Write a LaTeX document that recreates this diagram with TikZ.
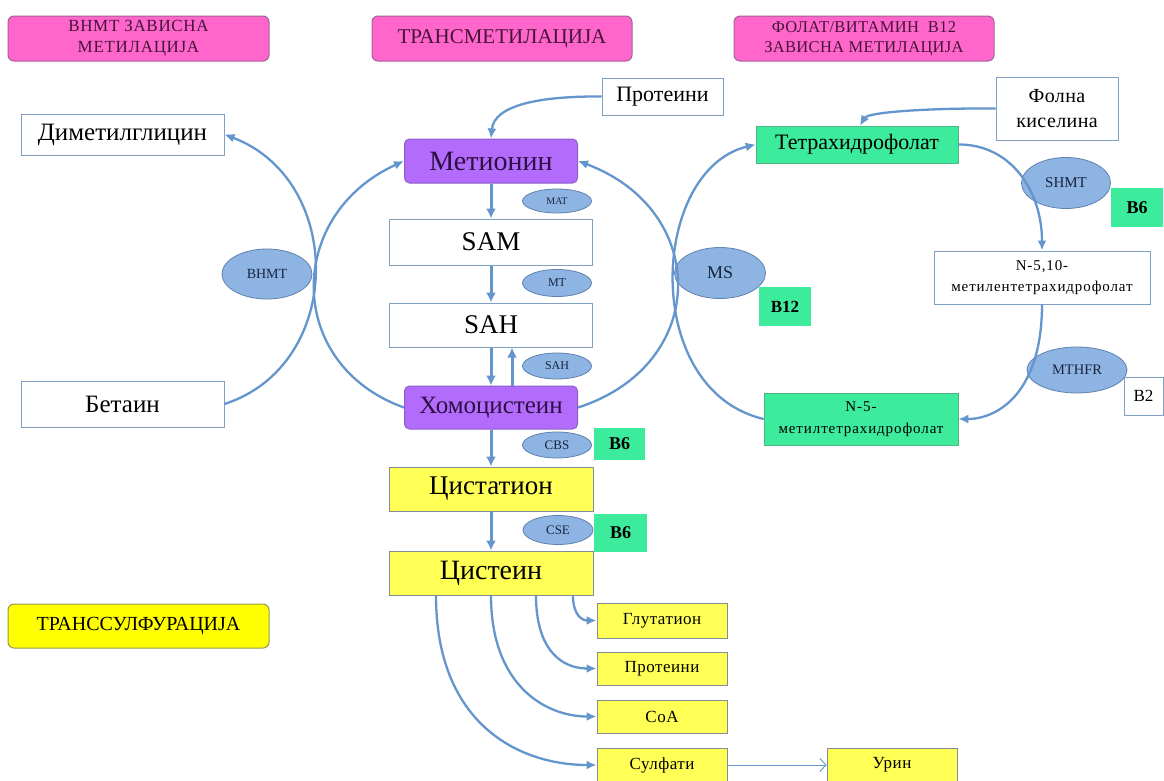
\documentclass[tikz,border=0pt]{standalone}
\usepackage{fontspec}
\setmainfont{Liberation Serif}
\usetikzlibrary{arrows.meta,shapes.geometric}
\definecolor{pinkF}{RGB}{255,102,204}
\definecolor{pinkD}{RGB}{165,95,150}
\definecolor{hdrT}{RGB}{70,20,55}
\definecolor{purF}{RGB}{178,107,250}
\definecolor{purD}{RGB}{140,95,200}
\definecolor{purT}{RGB}{45,15,70}
\definecolor{grnF}{RGB}{60,235,155}
\definecolor{grnD}{RGB}{80,180,130}
\definecolor{yelF}{RGB}{255,255,85}
\definecolor{yelD}{RGB}{130,140,150}
\definecolor{hdrY}{RGB}{255,255,0}
\definecolor{hdrYD}{RGB}{150,150,80}
\definecolor{boxD}{RGB}{125,160,195}
\definecolor{ellF}{RGB}{142,180,227}
\definecolor{ellD}{RGB}{95,130,175}
\definecolor{ellT}{RGB}{25,35,60}
\definecolor{arr}{RGB}{100,150,205}
\newcommand{\fz}[2]{\fontsize{#1}{#2}\selectfont}
\begin{document}
\begin{tikzpicture}[x=1pt,y=-1pt,
  hdr/.style={rectangle, rounded corners=6pt, fill=pinkF, draw=pinkD, line width=1pt, align=center, text=hdrT, inner sep=0pt},
  hdry/.style={rectangle, rounded corners=6pt, fill=hdrY, draw=hdrYD, line width=1pt, align=center, text=black, inner sep=0pt},
  wbox/.style={rectangle, fill=white, draw=boxD, line width=1pt, align=center, inner sep=0pt},
  pbox/.style={rectangle, rounded corners=5pt, fill=purF, draw=purD, line width=1pt, text=purT, inner sep=0pt},
  gbox/.style={rectangle, fill=grnF, draw=grnD, line width=0.6pt, align=center, inner sep=0pt},
  ybox/.style={rectangle, fill=yelF, draw=yelD, line width=1pt, align=center, inner sep=0pt},
  enz/.style={ellipse, fill=ellF, draw=ellD, line width=0.8pt, text=ellT, inner sep=0pt},
  conn/.style={draw=arr, line width=2.3pt, -{Latex[length=10pt,width=9pt]}},
  vconn/.style={draw=arr, line width=3pt, -{Latex[length=10pt,width=10pt]}}
]
\useasboundingbox (0,0) rectangle (1164,780);
\fill[white] (0,0) rectangle (1164,780);

% headers
\node[hdr, minimum width=261pt, minimum height=45pt, font={\fz{17}{21}\addfontfeatures{LetterSpace=4}}] (hA) at (138.5,38.5) {ВНМТ ЗАВИСНА\\МЕТИЛАЦИЈА};
\node[hdr, minimum width=260pt, minimum height=45pt, font=\fz{21}{24}] (hB) at (502,38.5) {ТРАНСМЕТИЛАЦИЈА};
\node[hdr, minimum width=260pt, minimum height=45pt, font={\fz{16.5}{20}\addfontfeatures{LetterSpace=2}}] (hC) at (864,38.5) {ФОЛАТ/ВИТАМИН\ \ B12\\ЗАВИСНА МЕТИЛАЦИЈА};
\node[hdry, minimum width=261pt, minimum height=44pt, font=\fz{20}{24}] (hD) at (138.5,626) {ТРАНССУЛФУРАЦИЈА};

% left
\node[wbox, minimum width=203pt, minimum height=41pt, font=\fz{25}{28}] (dmg) at (122.5,134.5) {Диметилглицин};
\node[wbox, minimum width=203pt, minimum height=46pt, font=\fz{25}{28}] (bet) at (122.5,404) {Бетаин};
\node[enz, minimum width=90pt, minimum height=50pt, font=\fz{14}{16}] (bhmt) at (267,274) {BHMT};

% centre
\node[wbox, minimum width=121pt, minimum height=37pt, font=\fz{22}{24}] (prot) at (662.5,96.5) {Протеини};
\node[pbox, minimum width=173pt, minimum height=44pt, font=\fz{28}{30}] (met) at (491,161) {Метионин};
\node[enz, minimum width=69pt, minimum height=24pt, font=\fz{10}{12}] (mat) at (557,201) {MAT};
\node[wbox, minimum width=203pt, minimum height=46pt, font=\fz{27}{30}] (sam) at (491,242) {SAM};
\node[enz, minimum width=69pt, minimum height=27pt, font=\fz{12}{14}] (mt) at (557,283) {MT};
\node[wbox, minimum width=203pt, minimum height=44pt, font=\fz{27}{30}] (sah) at (491,325) {SAH};
\node[enz, minimum width=69pt, minimum height=26pt, font=\fz{12}{14}] (sahE) at (557,366) {SAH};
\node[pbox, minimum width=173pt, minimum height=43pt, font=\fz{25}{28}] (hcy) at (491,407.5) {Хомоцистеин};
\node[enz, minimum width=69pt, minimum height=26pt, font=\fz{13}{15}] (cbs) at (557,445) {CBS};
\node[gbox, draw=none, minimum width=51pt, minimum height=32pt, font=\fz{18}{20}\bfseries] (b6a) at (619.5,444) {B6};
\node[ybox, minimum width=204pt, minimum height=44pt, font=\fz{27}{30}] (cysta) at (491,489) {Цистатион};
\node[enz, minimum width=70pt, minimum height=29pt, font=\fz{13}{15}] (cse) at (558,530) {CSE};
\node[gbox, draw=none, minimum width=53pt, minimum height=38pt, font=\fz{18}{20}\bfseries] (b6b) at (620.5,533) {B6};
\node[ybox, minimum width=204pt, minimum height=44pt, font=\fz{28}{30}] (cys) at (491,573) {Цистеин};
\node[ybox, minimum width=130pt, minimum height=35pt, font={\fz{17}{19}\addfontfeatures{LetterSpace=3}}] (glu) at (662,620.5) {Глутатион};
\node[ybox, minimum width=130pt, minimum height=33pt, font={\fz{17}{19}\addfontfeatures{LetterSpace=3}}] (prot2) at (662,668.5) {Протеини};
\node[ybox, minimum width=130pt, minimum height=33pt, font={\fz{17}{19}\addfontfeatures{LetterSpace=3}}] (coa) at (662,716.5) {CoA};
\node[ybox, minimum width=130pt, minimum height=34pt, font={\fz{17}{19}\addfontfeatures{LetterSpace=3}}] (sulf) at (662,765) {Сулфати};
\node[ybox, minimum width=130pt, minimum height=34pt, font={\fz{17}{19}\addfontfeatures{LetterSpace=3}}] (urin) at (892,765) {Урин};

% right
\node[enz, minimum width=91pt, minimum height=51pt, font=\fz{18}{20}] (ms) at (720,273) {MS};
\node[gbox, draw=none, minimum width=52pt, minimum height=39pt, font=\fz{17}{19}\bfseries] (b12) at (785,306.5) {B12};
\node[gbox, minimum width=202pt, minimum height=37pt, font=\fz{22}{24}] (thf) at (857,144.5) {Тетрахидрофолат};
\node[wbox, minimum width=122pt, minimum height=63pt, font={\fz{20}{25}\addfontfeatures{LetterSpace=2}}] (folna) at (1057,108.5) {Фолна\\киселина};
\node[enz, minimum width=89pt, minimum height=51pt, font=\fz{15}{17}] (shmt) at (1066,183) {SHMT};
\node[gbox, draw=none, minimum width=52pt, minimum height=39pt, font=\fz{18}{20}\bfseries] (b6c) at (1137,207.5) {B6};
\node[wbox, minimum width=216pt, minimum height=53pt, font={\fz{15}{21}\addfontfeatures{LetterSpace=6}}] (m510) at (1042,277.5) {N-5,10-\\метилентетрахидрофолат};
\node[enz, minimum width=100pt, minimum height=46pt, font=\fz{14.5}{16}] (mthfr) at (1077,370) {MTHFR};
\node[wbox, minimum width=39pt, minimum height=38pt, font=\fz{17}{19}] (b2) at (1143.5,396) {B2};
\node[gbox, minimum width=194pt, minimum height=52pt, font={\fz{15}{22}\addfontfeatures{LetterSpace=6}}] (n5) at (861,419) {N-5-\\метилтетрахидрофолат};

% vertical arrows
\draw[vconn] (met.south) -- (sam.north);
\draw[vconn] (sam.south) -- (sah.north);
\draw[vconn] (sah.south) -- (hcy.north);
\draw[vconn] ([xshift=21pt]hcy.north) -- ([xshift=21pt]sah.south);
\draw[vconn] (hcy.south) -- (cysta.north);
\draw[vconn] (cysta.south) -- (cys.north);

% big arcs
\draw[conn] (hcy.west) .. controls (285,365) and (285,215) .. (met.west);
\draw[conn] (bet.east) .. controls (345,365) and (345,180) .. (dmg.east);
\draw[conn] (hcy.east) .. controls (710,365) and (710,210) .. (met.east);
\draw[conn] (n5.west) .. controls (640,390) and (650,170) .. (thf.west);
\draw[conn] (prot.west) .. controls (540,96) and (494,105) .. (met.north);
\draw[conn] (folna.west) .. controls (930,108) and (868,112) .. ([xshift=3pt]thf.north);
\draw[conn] (thf.east) .. controls (1010,144) and (1042,190) .. (m510.north);
\draw[conn] (m510.south) .. controls (1042,390) and (1000,419) .. (n5.east);

% cysteine products
\draw[conn] ([xshift=82pt]cys.south) .. controls (573,615) and (582,620.5) .. (glu.west);
\draw[conn] ([xshift=45pt]cys.south) .. controls (536,648) and (560,668.5) .. (prot2.west);
\draw[conn] (cys.south) .. controls (491,685) and (545,716.5) .. (coa.west);
\draw[conn] ([xshift=-55pt]cys.south) .. controls (436,725) and (520,765) .. (sulf.west);
\draw[draw=arr, line width=0.9pt, -{Straight Barb[length=6pt,width=13pt]}] (sulf.east) -- (urin.west);
\end{tikzpicture}
\end{document}
